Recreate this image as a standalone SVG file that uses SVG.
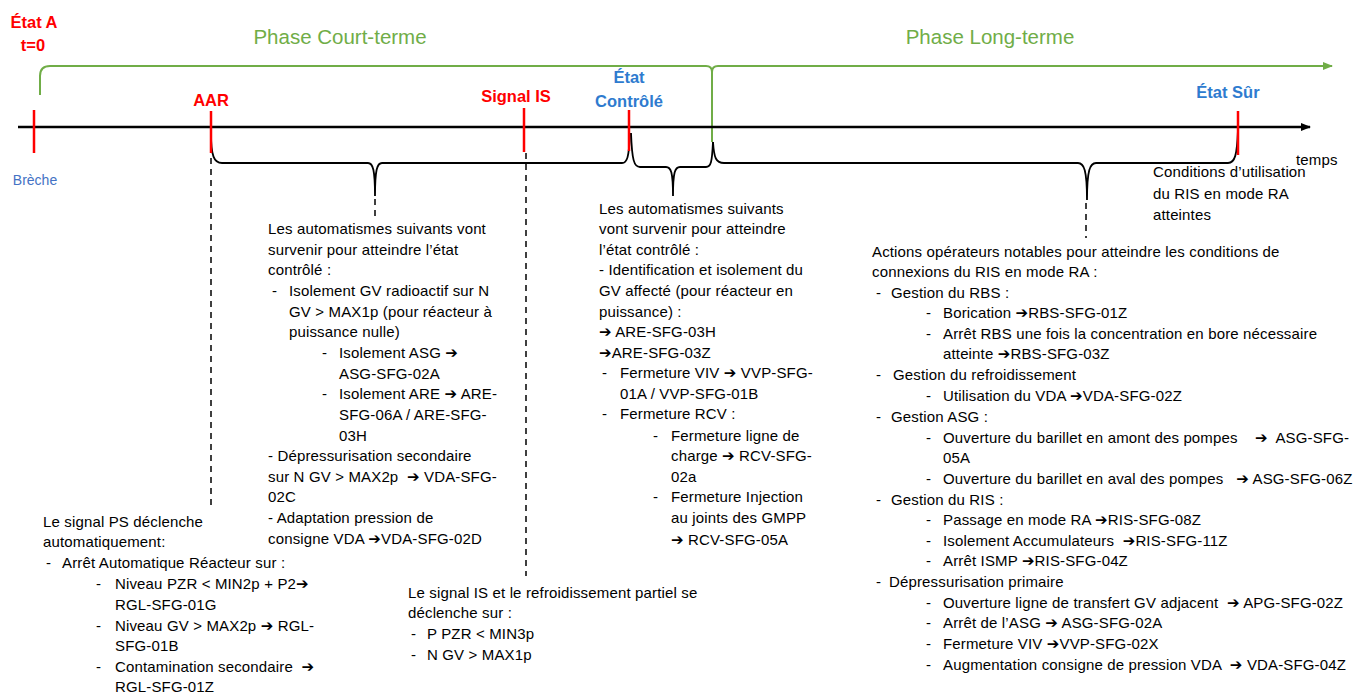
<svg xmlns="http://www.w3.org/2000/svg" width="1364" height="697" viewBox="0 0 1364 697">
<style>
.t{font-family:'Liberation Sans','DejaVu Sans',sans-serif;font-size:15px;letter-spacing:0.15px;fill:#000}
.red{font-family:'Liberation Sans','DejaVu Sans',sans-serif;font-size:16.5px;font-weight:bold;fill:#FF0000}
.blue{font-family:'Liberation Sans','DejaVu Sans',sans-serif;font-size:16.5px;font-weight:bold;fill:#2E7BCF}
.green{font-family:'Liberation Sans','DejaVu Sans',sans-serif;font-size:20.5px;fill:#70AD47}
.tick{stroke:#FF0000;stroke-width:2.5;fill:none}
.brace{stroke:#000;stroke-width:1.8;fill:none}
.dash{stroke:#000;stroke-width:1.5;stroke-dasharray:6,5;fill:none}
</style>
<defs>
<marker id="ab" markerWidth="10" markerHeight="10" refX="9" refY="5" orient="auto" markerUnits="userSpaceOnUse"><path d="M0,1 L10,5 L0,9 Z" fill="#000"/></marker>
<marker id="ag" markerWidth="10" markerHeight="10" refX="9" refY="5" orient="auto" markerUnits="userSpaceOnUse"><path d="M0,1 L10,5 L0,9 Z" fill="#70AD47"/></marker>
</defs>
<rect width="1364" height="697" fill="#fff"/>

<g id="connectors">
<path d="M40,95 L40,76 Q40,66 50,66 L706,66 Q712,66 712,72 Q712,66 718,66 L1332,66" stroke="#70AD47" stroke-width="2" fill="none" marker-end="url(#ag)"/>
<line x1="712" y1="70" x2="712" y2="142" stroke="#70AD47" stroke-width="2"/>
<line x1="18" y1="127" x2="1310" y2="127" stroke="#000" stroke-width="2.5" marker-end="url(#ab)"/>
<path class="brace" d="M211,133 C211,156 214,163 222,163 L368,163 C373,163 375,170 375,196 C375,170 377,163 382,163 L622,163 C627,163 629,158 630,133"/>
<path class="brace" d="M631,133 C632,160 634,167 640,167 L666,167 C671,167 673,172 673,196 C673,172 675,167 680,167 L706,167 C711,167 712,162 713,142"/>
<path class="brace" d="M713,142 C714,158 716,163 724,163 L1078,163 C1084,163 1087,170 1087,200 C1087,170 1090,163 1096,163 L1228,163 C1235,163 1237,155 1238,130"/>
<line class="dash" x1="211" y1="158" x2="211" y2="506"/>
<line class="dash" x1="526" y1="153" x2="526" y2="576"/>
<line class="dash" x1="375" y1="199" x2="375" y2="216"/>
<line class="dash" x1="1086" y1="203" x2="1086" y2="238"/>
</g>

<g id="ticks">
<line class="tick" x1="34" y1="110" x2="34" y2="153"/>
<line class="tick" x1="211" y1="111" x2="211" y2="153"/>
<line class="tick" x1="524" y1="108" x2="524" y2="152"/>
<line class="tick" x1="629" y1="110" x2="629" y2="151"/>
<line class="tick" x1="1238" y1="111" x2="1238" y2="155"/>
</g>

<g id="labels-top">
<text class="red" x="34" y="28" text-anchor="middle">État A</text>
<text class="red" x="33" y="51" text-anchor="middle">t=0</text>
<text class="green" x="340" y="44" text-anchor="middle">Phase Court-terme</text>
<text class="green" x="990" y="44" text-anchor="middle">Phase Long-terme</text>
<text class="red" x="211" y="106" text-anchor="middle">AAR</text>
<text class="red" x="516" y="102" text-anchor="middle">Signal IS</text>
<text class="blue" x="629" y="83" text-anchor="middle">État</text>
<text class="blue" x="629" y="107" text-anchor="middle">Contrôlé</text>
<text class="blue" x="1228" y="98" text-anchor="middle">État Sûr</text>
<text x="35" y="185" text-anchor="middle" style="font-family:'Liberation Sans','DejaVu Sans',sans-serif;font-size:14px;fill:#4472C4">Brèche</text>
<text class="t" x="1296" y="165">temps</text>
</g>

<g id="block-etat-sur" class="t">
<text x="1153" y="177">Conditions d’utilisation</text>
<text x="1153" y="199">du RIS en mode RA</text>
<text x="1153" y="220">atteintes</text>
</g>

<g id="block-aar" class="t">
<text x="268" y="234">Les automatismes suivants vont</text>
<text x="268" y="255">survenir pour atteindre l’état</text>
<text x="268" y="275">contrôlé :</text>
<text x="272" y="296">-</text><text x="289" y="296">Isolement GV radioactif sur N</text>
<text x="289" y="317">GV &gt; MAX1p (pour réacteur à</text>
<text x="289" y="337">puissance nulle)</text>
<text x="322" y="358">-</text><text x="339" y="358">Isolement ASG ➔</text>
<text x="339" y="379">ASG-SFG-02A</text>
<text x="322" y="399">-</text><text x="339" y="399">Isolement ARE ➔ ARE-</text>
<text x="339" y="420">SFG-06A / ARE-SFG-</text>
<text x="339" y="441">03H</text>
<text x="268" y="461">- Dépressurisation secondaire</text>
<text x="268" y="482" xml:space="preserve">sur N GV &gt; MAX2p  ➔ VDA-SFG-</text>
<text x="268" y="502">02C</text>
<text x="268" y="523">- Adaptation pression de</text>
<text x="268" y="544">consigne VDA ➔VDA-SFG-02D</text>
</g>

<g id="block-controle" class="t">
<text x="599" y="214">Les automatismes suivants</text>
<text x="599" y="234">vont survenir pour atteindre</text>
<text x="599" y="255">l’état contrôlé :</text>
<text x="599" y="275">- Identification et isolement du</text>
<text x="599" y="296">GV affecté (pour réacteur en</text>
<text x="599" y="317">puissance) :</text>
<text x="599" y="337">➔ ARE-SFG-03H</text>
<text x="599" y="358">➔ARE-SFG-03Z</text>
<text x="602" y="378">-</text><text x="620" y="378">Fermeture VIV ➔ VVP-SFG-</text>
<text x="620" y="399">01A / VVP-SFG-01B</text>
<text x="602" y="419">-</text><text x="620" y="419">Fermeture RCV :</text>
<text x="653" y="441">-</text><text x="671" y="441">Fermeture ligne de</text>
<text x="671" y="461">charge ➔ RCV-SFG-</text>
<text x="671" y="482">02a</text>
<text x="653" y="502">-</text><text x="671" y="502">Fermeture Injection</text>
<text x="671" y="523">au joints des GMPP</text>
<text x="671" y="545">➔ RCV-SFG-05A</text>
</g>

<g id="block-long-terme" class="t">
<text x="872" y="257">Actions opérateurs notables pour atteindre les conditions de</text>
<text x="872" y="277">connexions du RIS en mode RA :</text>
<text x="876" y="298">-</text><text x="891" y="298">Gestion du RBS :</text>
<text x="926" y="318">-</text><text x="943" y="318">Borication ➔RBS-SFG-01Z</text>
<text x="926" y="339">-</text><text x="943" y="339">Arrêt RBS une fois la concentration en bore nécessaire</text>
<text x="943" y="359">atteinte ➔RBS-SFG-03Z</text>
<text x="876" y="380">-</text><text x="893" y="380">Gestion du refroidissement</text>
<text x="926" y="401">-</text><text x="943" y="401">Utilisation du VDA ➔VDA-SFG-02Z</text>
<text x="876" y="422">-</text><text x="891" y="422">Gestion ASG :</text>
<text x="926" y="443">-</text><text x="943" y="443" xml:space="preserve">Ouverture du barillet en amont des pompes    ➔  ASG-SFG-</text>
<text x="943" y="463">05A</text>
<text x="926" y="484">-</text><text x="943" y="484" xml:space="preserve">Ouverture du barillet en aval des pompes   ➔ ASG-SFG-06Z</text>
<text x="876" y="505">-</text><text x="891" y="505">Gestion du RIS :</text>
<text x="926" y="525">-</text><text x="943" y="525">Passage en mode RA ➔RIS-SFG-08Z</text>
<text x="926" y="546">-</text><text x="943" y="546" xml:space="preserve">Isolement Accumulateurs  ➔RIS-SFG-11Z</text>
<text x="926" y="566">-</text><text x="943" y="566">Arrêt ISMP ➔RIS-SFG-04Z</text>
<text x="876" y="587">-</text><text x="889" y="587">Dépressurisation primaire</text>
<text x="926" y="608">-</text><text x="943" y="608" xml:space="preserve">Ouverture ligne de transfert GV adjacent  ➔ APG-SFG-02Z</text>
<text x="926" y="628">-</text><text x="943" y="628">Arrêt de l’ASG ➔ ASG-SFG-02A</text>
<text x="926" y="649">-</text><text x="943" y="649">Fermeture VIV ➔VVP-SFG-02X</text>
<text x="926" y="670">-</text><text x="943" y="670" xml:space="preserve">Augmentation consigne de pression VDA  ➔ VDA-SFG-04Z</text>
</g>

<g id="block-ps" class="t">
<text x="43" y="527">Le signal PS déclenche</text>
<text x="43" y="547">automatiquement:</text>
<text x="46" y="568">-</text><text x="62" y="568">Arrêt Automatique Réacteur sur :</text>
<text x="96" y="589">-</text><text x="115" y="589">Niveau PZR &lt; MIN2p + P2➔</text>
<text x="115" y="610">RGL-SFG-01G</text>
<text x="96" y="631">-</text><text x="115" y="631">Niveau GV &gt; MAX2p ➔ RGL-</text>
<text x="115" y="651">SFG-01B</text>
<text x="96" y="672">-</text><text x="115" y="672" xml:space="preserve">Contamination secondaire  ➔</text>
<text x="115" y="692">RGL-SFG-01Z</text>
</g>

<g id="block-is" class="t">
<text x="408" y="598">Le signal IS et le refroidissement partiel se</text>
<text x="408" y="618">déclenche sur :</text>
<text x="411" y="639">-</text><text x="427" y="639">P PZR &lt; MIN3p</text>
<text x="411" y="660">-</text><text x="427" y="660">N GV &gt; MAX1p</text>
</g>
</svg>
